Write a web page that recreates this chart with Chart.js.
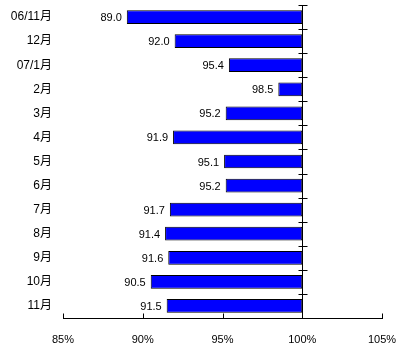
<!DOCTYPE html>
<html>
<head>
<meta charset="utf-8">
<script src="https://cdn.jsdelivr.net/npm/chart.js@4"></script>
<style>
  html, body { margin: 0; padding: 0; background: #fff; }
  #wrap { width: 400px; height: 353px; }
</style>
</head>
<body>
<div id="wrap"><canvas id="chart"></canvas></div>
<script>
// data
const months = ["06/11月", "12月", "07/1月", "2月", "3月", "4月", "5月", "6月", "7月", "8月", "9月", "10月", "11月"];
const rates = [89.0, 92.0, 95.4, 98.5, 95.2, 91.9, 95.1, 95.2, 91.7, 91.4, 91.6, 90.5, 91.5];
const baseRate = 100;
const xTicks = [85, 90, 95, 100, 105];

const FONT = "'Liberation Sans', 'Noto Sans CJK JP', sans-serif";

// axis lines, inward ticks and value labels
const axisPlugin = {
  id: "axisPlugin",
  afterDraw(chart) {
    const { ctx, chartArea, scales } = chart;
    const x = scales.x, y = scales.y;
    ctx.save();
    ctx.strokeStyle = "#000";
    ctx.lineWidth = 1;

    // bottom axis
    const yb = Math.round(chartArea.bottom) + 0.5;
    ctx.beginPath();
    ctx.moveTo(x.getPixelForValue(xTicks[0]), yb);
    ctx.lineTo(x.getPixelForValue(xTicks[xTicks.length - 1]) + 1, yb);
    xTicks.forEach(v => {
      const px = Math.round(x.getPixelForValue(v)) + 0.5;
      ctx.moveTo(px, yb);
      ctx.lineTo(px, yb - 5);
    });
    ctx.stroke();

    // vertical line at base value with category ticks
    const xb = Math.round(x.getPixelForValue(baseRate)) + 0.5;
    ctx.beginPath();
    ctx.moveTo(xb, chartArea.top);
    ctx.lineTo(xb, yb);
    for (let i = 0; i < months.length; i++) {
      const py = Math.round(y.getPixelForValue(i - 0.5)) + 0.5;
      ctx.moveTo(xb - 4, py);
      ctx.lineTo(xb + 5, py);
    }
    ctx.stroke();

    // value labels
    ctx.fillStyle = "#000";
    ctx.font = "11px " + FONT;
    ctx.textAlign = "right";
    ctx.textBaseline = "middle";
    rates.forEach((v, i) => {
      ctx.fillText(v.toFixed(1), x.getPixelForValue(v) - 5, y.getPixelForValue(i) + 1);
    });
    ctx.restore();
  }
};

new Chart(document.getElementById("chart"), {
  type: "bar",
  data: {
    labels: months,
    datasets: [{
      data: rates.map(v => [v, baseRate]),
      backgroundColor: "#0000ff",
      borderColor: "#000",
      borderWidth: 1,
      borderSkipped: false,
      barPercentage: 0.57,
      categoryPercentage: 1
    }]
  },
  options: {
    indexAxis: "y",
    responsive: true,
    maintainAspectRatio: false,
    animation: false,
    layout: { padding: { top: 5, right: 18, bottom: 0, left: 0 } },
    plugins: { legend: { display: false }, tooltip: { enabled: false } },
    scales: {
      x: {
        min: 85,
        max: 105,
        afterBuildTicks: s => { s.ticks = xTicks.map(v => ({ value: v })); },
        afterFit: s => { s.height = 35; s.paddingLeft = 0; s.paddingRight = 0; },
        grid: { display: false, drawTicks: false },
        border: { display: false },
        ticks: {
          color: "#000",
          padding: 15,
          font: { family: FONT, size: 11 },
          callback: v => v + "%"
        }
      },
      y: {
        afterFit: s => { s.width = 63; s.paddingTop = 0; s.paddingBottom = 0; },
        grid: { display: false, drawTicks: false },
        border: { display: false },
        ticks: {
          color: "#000",
          padding: 11,
          font: { family: FONT, size: 12 }
        }
      }
    }
  },
  plugins: [axisPlugin]
});
</script>
</body>
</html>
